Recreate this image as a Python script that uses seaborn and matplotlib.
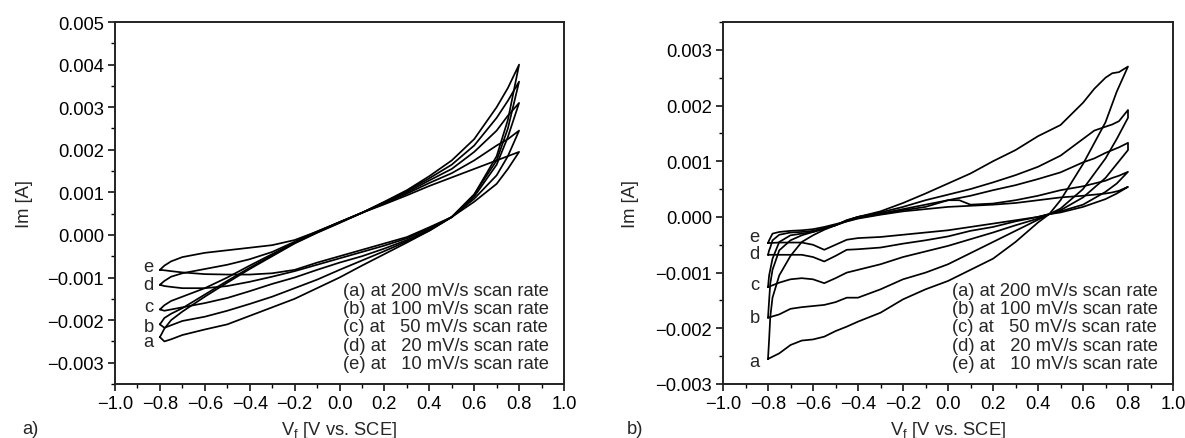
import numpy as np
import pandas as pd
import matplotlib
matplotlib.use("Agg")
import matplotlib.pyplot as plt
import seaborn as sns
from matplotlib.ticker import MultipleLocator, FuncFormatter

# ---------------- data (currents in mA, potentials in V vs. SCE) ----------------
curves = ["a", "b", "c", "d", "e"]
legend_lines = ["(a) at 200 mV/s scan rate",
                "(b) at 100 mV/s scan rate",
                "(c) at   50 mV/s scan rate",
                "(d) at   20 mV/s scan rate",
                "(e) at   10 mV/s scan rate"]

# Panel a) -- forward (upper) branch, -0.8 -> 0.8 V
xa_fwd = [-0.8, -0.78, -0.75, -0.7, -0.6, -0.5, -0.4, -0.3, -0.2, -0.1, 0.0,
          0.1, 0.2, 0.3, 0.4, 0.5, 0.6, 0.7, 0.75, 0.8]
pa_fwd_a = [-2.40, -2.20, -2.00, -1.80, -1.45, -1.12, -0.80, -0.50, -0.20, 0.05, 0.28,
            0.52, 0.78, 1.05, 1.38, 1.75, 2.25, 3.00, 3.45, 4.00]
pa_fwd_b = [-2.10, -1.95, -1.85, -1.72, -1.40, -1.08, -0.77, -0.48, -0.19, 0.06, 0.29,
            0.52, 0.77, 1.03, 1.33, 1.65, 2.10, 2.75, 3.15, 3.60]
pa_fwd_c = [-1.75, -1.65, -1.55, -1.45, -1.25, -1.00, -0.72, -0.45, -0.18, 0.07, 0.30,
            0.52, 0.76, 1.00, 1.28, 1.55, 1.95, 2.45, 2.80, 3.10]
pa_fwd_d = [-1.17, -1.08, -0.98, -0.90, -0.80, -0.70, -0.57, -0.40, -0.16, 0.08, 0.30,
            0.52, 0.74, 0.97, 1.22, 1.45, 1.75, 2.10, 2.25, 2.45]
pa_fwd_e = [-0.82, -0.72, -0.62, -0.52, -0.42, -0.36, -0.30, -0.24, -0.12, 0.08, 0.30,
            0.52, 0.72, 0.93, 1.15, 1.35, 1.55, 1.75, 1.85, 1.95]

# Panel a) -- reverse (lower) branch, 0.8 -> -0.8 V
xa_rev = [0.8, 0.75, 0.7, 0.6, 0.5, 0.4, 0.3, 0.2, 0.1, 0.0, -0.1, -0.2, -0.3,
          -0.4, -0.5, -0.6, -0.7, -0.75, -0.78, -0.8]
pa_rev_a = [4.00, 2.70, 1.85, 0.95, 0.42, 0.10, -0.18, -0.45, -0.72, -1.00, -1.25, -1.50, -1.70,
            -1.90, -2.10, -2.22, -2.35, -2.45, -2.50, -2.40]
pa_rev_b = [3.60, 2.50, 1.75, 0.95, 0.42, 0.10, -0.15, -0.38, -0.60, -0.82, -1.05, -1.25, -1.45,
            -1.62, -1.78, -1.92, -2.02, -2.12, -2.18, -2.10]
pa_rev_c = [3.10, 2.30, 1.65, 0.90, 0.42, 0.12, -0.12, -0.32, -0.50, -0.65, -0.82, -1.00, -1.15,
            -1.32, -1.48, -1.60, -1.70, -1.75, -1.78, -1.75]
pa_rev_d = [2.45, 1.85, 1.40, 0.85, 0.42, 0.15, -0.08, -0.25, -0.40, -0.55, -0.70, -0.85, -0.98,
            -1.10, -1.20, -1.25, -1.25, -1.22, -1.20, -1.17]
pa_rev_e = [1.95, 1.55, 1.20, 0.78, 0.42, 0.18, -0.05, -0.20, -0.35, -0.50, -0.65, -0.82, -0.90,
            -0.93, -0.93, -0.92, -0.88, -0.85, -0.83, -0.82]

# Panel b) -- forward (upper) branch
xb_fwd = [-0.8, -0.795, -0.79, -0.78, -0.75, -0.7, -0.65, -0.6, -0.55, -0.5, -0.45, -0.4,
          -0.3, -0.2, -0.1, 0.0, 0.05, 0.1, 0.2, 0.3, 0.4, 0.5, 0.6, 0.65, 0.7, 0.73, 0.76, 0.8]
pb_fwd_a = [-2.55, -2.20, -1.80, -1.45, -1.05, -0.70, -0.45, -0.33, -0.23, -0.15, -0.06, 0.00,
            0.10, 0.25, 0.42, 0.60, 0.69, 0.78, 1.00, 1.20, 1.45, 1.65, 2.05, 2.30, 2.50, 2.58, 2.60, 2.70]
pb_fwd_b = [-1.81, -1.50, -1.20, -0.95, -0.60, -0.42, -0.33, -0.27, -0.21, -0.15, -0.06, 0.00,
            0.08, 0.18, 0.30, 0.40, 0.45, 0.50, 0.62, 0.75, 0.90, 1.10, 1.40, 1.55, 1.62, 1.66, 1.72, 1.92]
pb_fwd_c = [-1.26, -1.05, -0.95, -0.75, -0.45, -0.33, -0.30, -0.27, -0.21, -0.15, -0.07, 0.00,
            0.06, 0.14, 0.22, 0.30, 0.34, 0.38, 0.48, 0.57, 0.68, 0.80, 0.98, 1.05, 1.15, 1.20, 1.25, 1.33]
pb_fwd_d = [-0.68, -0.60, -0.55, -0.42, -0.32, -0.28, -0.27, -0.25, -0.20, -0.15, -0.08, -0.02,
            0.05, 0.12, 0.18, 0.30, 0.30, 0.22, 0.24, 0.30, 0.38, 0.48, 0.55, 0.60, 0.65, 0.70, 0.74, 0.81]
pb_fwd_e = [-0.47, -0.42, -0.38, -0.30, -0.27, -0.25, -0.24, -0.22, -0.18, -0.13, -0.08, -0.03,
            0.04, 0.10, 0.14, 0.18, 0.19, 0.20, 0.22, 0.25, 0.30, 0.35, 0.38, 0.40, 0.42, 0.44, 0.47, 0.54]

# Panel b) -- reverse (lower) branch
xb_rev = [0.8, 0.75, 0.7, 0.6, 0.5, 0.45, 0.4, 0.3, 0.2, 0.1, 0.0, -0.1, -0.2, -0.3,
          -0.4, -0.45, -0.5, -0.55, -0.6, -0.65, -0.7, -0.75, -0.8]
pb_rev_a = [2.70, 2.25, 1.70, 0.95, 0.30, 0.05, -0.10, -0.45, -0.75, -0.95, -1.15, -1.30, -1.48, -1.72,
            -1.88, -1.97, -2.05, -2.15, -2.20, -2.22, -2.30, -2.45, -2.55]
pb_rev_b = [1.78, 1.40, 1.05, 0.50, 0.15, 0.05, -0.05, -0.25, -0.45, -0.65, -0.85, -1.00, -1.12, -1.30,
            -1.45, -1.45, -1.53, -1.58, -1.60, -1.62, -1.65, -1.75, -1.81]
pb_rev_c = [1.20, 0.95, 0.70, 0.35, 0.12, 0.05, -0.03, -0.15, -0.28, -0.40, -0.52, -0.62, -0.72, -0.85,
            -0.95, -1.00, -1.10, -1.19, -1.12, -1.10, -1.12, -1.18, -1.26]
pb_rev_d = [0.81, 0.60, 0.45, 0.22, 0.10, 0.05, 0.00, -0.08, -0.18, -0.25, -0.35, -0.42, -0.48, -0.55,
            -0.58, -0.59, -0.70, -0.80, -0.72, -0.68, -0.68, -0.68, -0.68]
pb_rev_e = [0.54, 0.42, 0.32, 0.18, 0.08, 0.05, 0.00, -0.06, -0.12, -0.18, -0.24, -0.28, -0.32, -0.36,
            -0.38, -0.41, -0.50, -0.59, -0.50, -0.46, -0.46, -0.46, -0.47]

# label positions of the curve letters (V, mA)
lab_x_a = -0.85
lab_y_a = [-2.51, -2.14, -1.67, -1.17, -0.75]
lab_x_b = -0.86
lab_y_b = [-2.60, -1.81, -1.22, -0.65, -0.36]


def build_frame(x_fwd, fwd, x_rev, rev):
    rows = []
    for name, yf, yr in zip(curves, fwd, rev):
        xs = list(x_fwd) + list(x_rev)
        ys = list(yf) + list(yr)
        for i, (xv, yv) in enumerate(zip(xs, ys)):
            rows.append({"curve": name, "order": i, "V": xv, "I": yv * 1e-3})
    return pd.DataFrame(rows)


df_a = build_frame(xa_fwd, [pa_fwd_a, pa_fwd_b, pa_fwd_c, pa_fwd_d, pa_fwd_e],
                   xa_rev, [pa_rev_a, pa_rev_b, pa_rev_c, pa_rev_d, pa_rev_e])
df_b = build_frame(xb_fwd, [pb_fwd_a, pb_fwd_b, pb_fwd_c, pb_fwd_d, pb_fwd_e],
                   xb_rev, [pb_rev_a, pb_rev_b, pb_rev_c, pb_rev_d, pb_rev_e])

# ---------------- style ----------------
sns.set_theme(style="ticks")
plt.rcParams["font.family"] = ["Liberation Sans", "DejaVu Sans"]
plt.rcParams["axes.unicode_minus"] = True
FS = 13.2

fig = plt.figure(figsize=(11.85, 4.39), dpi=100)
W, H = 1185, 439
ax_a = fig.add_axes([115 / W, 1 - 385 / H, (564 - 115) / W, (385 - 23) / H])
ax_b = fig.add_axes([723 / W, 1 - 385 / H, (1173 - 723) / W, (385 - 23) / H])


def fmt3(v, pos):
    s = "%.3f" % v
    if s == "-0.000":
        s = "0.000"
    return s.replace("-", "\u2212")


def fmt1(v, pos):
    s = "%.1f" % v
    if s == "-0.0":
        s = "0.0"
    return s.replace("-", "\u2212")


for ax, df, ylim, labx, laby, ylab_x in [(ax_a, df_a, (-0.0035, 0.005), lab_x_a, lab_y_a, (33 - 115) / 449),
                                         (ax_b, df_b, (-0.003, 0.0035), lab_x_b, lab_y_b, (639 - 723) / 450)]:
    sns.lineplot(data=df, x="V", y="I", units="curve", estimator=None, sort=False,
                 color="black", linewidth=1.25, ax=ax, legend=False)
    ax.set_xlim(-1.0, 1.0)
    ax.set_ylim(*ylim)
    ax.xaxis.set_major_locator(MultipleLocator(0.2))
    ax.xaxis.set_minor_locator(MultipleLocator(0.1))
    ax.yaxis.set_major_locator(MultipleLocator(0.001))
    ax.yaxis.set_minor_locator(MultipleLocator(0.0005))
    ax.xaxis.set_major_formatter(FuncFormatter(fmt1))
    ax.yaxis.set_major_formatter(FuncFormatter(fmt3))
    ax.tick_params(axis="both", which="major", direction="out", length=5, width=1.1,
                   labelsize=FS, colors="black", pad=3)
    ax.tick_params(axis="both", which="minor", direction="out", length=3, width=1.0,
                   colors="black")
    ax.tick_params(top=False, right=False, which="both")
    for sp in ax.spines.values():
        sp.set_visible(True)
        sp.set_linewidth(1.4)
        sp.set_color("#222222")
    ax.set_xlabel("V$_\\mathregular{f}$ [V vs. SCE]", fontsize=FS)
    ax.set_ylabel("Im [A]", fontsize=FS)
    ax.xaxis.set_label_coords(0.5, (385 - 420) / 362)
    ax.yaxis.set_label_coords(ylab_x, 0.5)
    for name, ly in zip(curves, laby):
        ax.text(labx, ly * 1e-3, name, fontsize=FS, ha="center", va="center")

# legend blocks (plain text)
line_y = [292, 310, 328, 347, 365]
for x0 in (343, 952):
    for ty, txt in zip(line_y, legend_lines):
        fig.text(x0 / W, 1 - ty / H, txt, fontsize=FS, ha="left", va="center")

fig.text(30 / W, 1 - 430 / H, "a)", fontsize=FS, ha="center", va="center")
fig.text(635 / W, 1 - 430 / H, "b)", fontsize=FS, ha="center", va="center")

fig.savefig("out.png", dpi=100)
